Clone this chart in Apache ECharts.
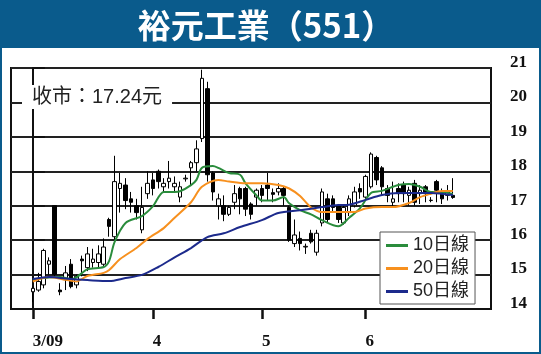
<!DOCTYPE html>
<html>
<head>
<meta charset="utf-8">
<script src="https://cdn.jsdelivr.net/npm/echarts@6/dist/echarts.min.js"></script>
<style>
  html, body { margin: 0; padding: 0; background: #fff; }
  #chart { width: 541px; height: 354px; }
</style>
</head>
<body>
<div id="chart"></div>
<script>
// trading days, Mar 2 - Jun 23 2009
const dates = [
  "3/2","3/3","3/4","3/5","3/6","3/9","3/10","3/11","3/12","3/13",
  "3/16","3/17","3/18","3/19","3/20","3/23","3/24","3/25","3/26","3/27",
  "3/30","3/31","4/1","4/2","4/3","4/6","4/7","4/8","4/9","4/14",
  "4/15","4/16","4/17","4/20","4/21","4/22","4/23","4/24","4/27","4/28",
  "4/29","4/30","5/4","5/5","5/6","5/7","5/8","5/11","5/12","5/13",
  "5/14","5/15","5/18","5/19","5/20","5/21","5/22","5/25","5/26","5/27",
  "5/29","6/1","6/2","6/3","6/4","6/5","6/8","6/9","6/10","6/11",
  "6/12","6/15","6/16","6/17","6/18","6/19","6/22","6/23"
];
const monthTicks = [0, 22, 42, 61];
const monthLabels = ["3/09", "4", "5", "6"];

// [open, close, low, high]
const ohlc = [
  [14.5, 14.6, 14.2, 14.65], [14.55, 14.8, 14.5, 15.05], [14.7, 15.7, 14.6, 15.75], [15.3, 15.4, 15.0, 15.5],
  [17.0, 15.0, 14.9, 17.0], [14.55, 14.5, 14.4, 14.75], [14.85, 15.05, 14.55, 15.25], [15.3, 14.65, 14.6, 15.45],
  [14.7, 14.95, 14.6, 15.0], [15.45, 15.4, 14.95, 15.55], [15.2, 15.6, 15.1, 15.8], [15.35, 15.45, 15.2, 15.75],
  [15.35, 15.6, 15.2, 15.85], [15.3, 15.8, 15.25, 16.05], [16.6, 16.4, 16.1, 16.65], [16.1, 17.7, 16.0, 18.45],
  [17.5, 17.65, 16.8, 17.95], [17.6, 17.15, 16.9, 17.8], [17.2, 17.1, 16.8, 17.4], [17.0, 16.8, 16.6, 17.2],
  [16.3, 16.95, 16.2, 17.55], [17.35, 17.65, 17.2, 18.0], [17.75, 17.5, 17.3, 17.95], [18.0, 17.7, 17.5, 18.05],
  [17.55, 17.65, 17.4, 17.8], [17.7, 17.8, 17.5, 18.3], [17.55, 17.65, 17.4, 17.85], [17.25, 17.55, 17.1, 17.7],
  [17.78, 17.8, 17.7, 17.9], [18.1, 18.25, 17.6, 18.3], [18.25, 18.65, 18.0, 18.9], [18.95, 20.7, 18.85, 20.95],
  [20.4, 17.9, 17.7, 20.6], [17.95, 17.4, 17.15, 18.0], [17.0, 17.2, 16.6, 17.35], [17.0, 16.75, 16.55, 17.3],
  [16.75, 16.95, 16.7, 17.0], [17.1, 17.35, 16.9, 17.6], [17.5, 17.2, 16.75, 17.55], [17.5, 16.9, 16.7, 17.55],
  [17.05, 16.75, 16.6, 17.1], [17.25, 17.45, 17.0, 17.5], [17.5, 17.3, 17.1, 17.6], [17.6, 17.5, 17.15, 17.95],
  [17.38, 17.33, 17.1, 17.5], [17.4, 17.5, 17.3, 17.65], [17.5, 17.3, 17.0, 17.55], [16.95, 16.0, 15.95, 17.0],
  [15.9, 16.15, 15.8, 16.6], [16.05, 15.9, 15.7, 16.25], [15.8, 15.82, 15.6, 15.9], [16.2, 15.95, 15.9, 16.3],
  [15.65, 16.2, 15.55, 16.3], [16.5, 17.4, 16.4, 17.5], [17.2, 16.6, 16.5, 17.35], [17.2, 16.95, 16.8, 17.3],
  [17.0, 16.6, 16.5, 17.05], [16.5, 16.95, 16.45, 17.0], [16.8, 17.2, 16.7, 17.3], [17.0, 17.4, 16.95, 17.55],
  [17.5, 17.4, 17.2, 17.65], [17.25, 17.85, 17.2, 17.9], [17.55, 18.5, 17.5, 18.55], [18.4, 17.75, 17.6, 18.45],
  [18.1, 17.55, 17.3, 18.15], [17.5, 17.3, 17.1, 17.6], [17.1, 17.2, 16.95, 17.7], [17.5, 17.35, 17.1, 17.65],
  [17.6, 17.35, 17.1, 17.7], [17.3, 17.45, 17.0, 17.55], [17.65, 17.1, 17.0, 17.75], [17.35, 17.45, 17.05, 17.6],
  [17.55, 17.35, 17.1, 17.6], [17.15, 17.16, 17.1, 17.25], [17.7, 17.45, 17.1, 17.75], [17.4, 17.2, 17.05, 17.5],
  [17.3, 17.4, 17.15, 17.6], [17.3, 17.24, 17.2, 17.8]
];

// moving averages: [day index, value]
const ma10 = [
  [0, 14.85], [2, 14.9], [5, 14.93], [7, 14.87], [8, 14.92], [10, 15.15], [13, 15.22], [14, 15.4],
  [15, 15.95], [17, 16.5], [20, 16.7], [22, 16.98], [24, 17.4], [26, 17.4], [27, 17.42], [29, 17.6],
  [30, 17.75], [31, 18.1], [33, 18.15], [34, 18.1], [36, 17.95], [38, 17.9], [39, 17.65], [41, 17.3],
  [42, 17.15], [44, 17.15], [46, 17.25], [47, 17.07], [49, 16.87], [51, 16.75], [53, 16.58], [56, 16.4],
  [58, 16.65], [60, 16.93], [62, 17.37], [64, 17.43], [67, 17.6], [69, 17.63], [71, 17.55], [73, 17.4],
  [75, 17.4], [77, 17.34]
];
const ma20 = [
  [0, 14.8], [3, 14.93], [6, 14.85], [8, 14.8], [10, 14.96], [13, 15.05], [14, 15.13], [16, 15.45],
  [19, 15.77], [21, 16.03], [24, 16.35], [26, 16.65], [29, 17.1], [31, 17.55], [34, 17.75], [36, 17.7],
  [39, 17.65], [42, 17.65], [45, 17.6], [47, 17.5], [49, 17.28], [51, 16.95], [53, 16.82], [56, 16.82],
  [59, 16.82], [61, 16.92], [64, 16.96], [66, 16.96], [69, 17.08], [71, 17.25], [73, 17.35], [75, 17.43],
  [77, 17.43]
];
const ma50 = [
  [0, 14.87], [3, 14.93], [7, 14.87], [10, 14.84], [14, 14.81], [17, 14.9], [20, 14.99], [23, 15.22],
  [26, 15.5], [29, 15.77], [32, 16.09], [35, 16.2], [38, 16.38], [42, 16.58], [45, 16.79], [49, 16.87],
  [53, 16.96], [56, 17.02], [58, 17.03], [61, 17.17], [64, 17.31], [67, 17.37], [70, 17.37], [73, 17.37],
  [77, 17.31]
];
const maNames = ["10日線", "20日線", "50日線"];
const maColors = ["#2a8c3c", "#f7901e", "#1c2a8c"];
const closeText = "收市：17.24元";

const chart = echarts.init(document.getElementById("chart"));
const candleData = ohlc.map((d, i) => [i, ...d]);
const serif = '"Liberation Serif", "DejaVu Serif", serif';
const sans = '"Liberation Sans", "Noto Sans CJK TC", sans-serif';

chart.setOption({
  animation: false,
  backgroundColor: "#fff",
  grid: {
    left: 11, right: 50, top: 68, bottom: 45,
    show: true, borderColor: "#111", borderWidth: 2,
  },
  xAxis: {
    type: "value",
    min: -4,
    max: 84,
    splitLine: { show: false },
    axisLine: { show: true, lineStyle: { color: "#111", width: 2 } },
    axisTick: {
      show: true, customValues: monthTicks, length: 10,
      lineStyle: { color: "#111", width: 2.5 },
    },
    axisLabel: {
      customValues: monthTicks,
      margin: 24,
      align: "left",
      formatter: (v) => monthLabels[monthTicks.indexOf(v)] || "",
      fontFamily: serif, fontWeight: "bold", fontSize: 17, color: "#111",
    },
  },
  yAxis: {
    type: "value",
    position: "right",
    min: 14,
    max: 21,
    interval: 1,
    axisLine: { show: true, lineStyle: { color: "#111", width: 2 } },
    axisTick: { show: true, inside: false, length: 12, lineStyle: { color: "#111", width: 2 } },
    splitLine: { show: true, lineStyle: { color: "#222", width: 2 } },
    axisLabel: {
      margin: 19,
      verticalAlign: "bottom",
      lineHeight: 11,
      fontFamily: serif, fontWeight: "bold", fontSize: 17, color: "#111",
    },
  },
  legend: {
    data: maNames,
    orient: "vertical",
    left: 380,
    top: 232,
    icon: "rect",
    itemWidth: 22,
    itemHeight: 3,
    itemGap: 4,
    padding: [4, 6, 3, 6],
    borderColor: "#555",
    borderWidth: 1,
    backgroundColor: "#fff",
    textStyle: { fontFamily: sans, fontSize: 18, color: "#222", lineHeight: 19 },
  },
  graphic: [
    { type: "rect", shape: { x: 0, y: 0, width: 541, height: 48 }, style: { fill: "#0a5b8c" }, z: 10 },
    { type: "rect", shape: { x: 1, y: 1, width: 539, height: 352 }, style: { fill: "none", stroke: "#0a5b8c", lineWidth: 2 }, z: 10 },
    {
      type: "text", x: 266, y: 25, z: 11,
      style: {
        text: "裕元工業（551）", fill: "#fff",
        font: 'bold 33px "Noto Sans CJK TC"',
        textAlign: "center", textVerticalAlign: "middle",
      },
    },
    {
      type: "text", x: 22, y: 85, z: 11,
      style: {
        text: closeText, fill: "#222",
        font: '20px "Liberation Sans", "Noto Sans CJK TC"',
        backgroundColor: "#fff", padding: [2, 10, 2, 10],
      },
    },
  ],
  series: [
    {
      type: "candlestick",
      data: candleData,
      barWidth: 4,
      itemStyle: {
        color: "#fff", color0: "#000",
        borderColor: "#000", borderColor0: "#000",
        borderWidth: 1,
      },
    },
    ...[ma10, ma20, ma50].map((d, k) => ({
      type: "line",
      name: maNames[k],
      data: d,
      smooth: 0.3,
      showSymbol: false,
      color: maColors[k],
      lineStyle: { width: 2, color: maColors[k] },
    })),
  ],
});
</script>
</body>
</html>
